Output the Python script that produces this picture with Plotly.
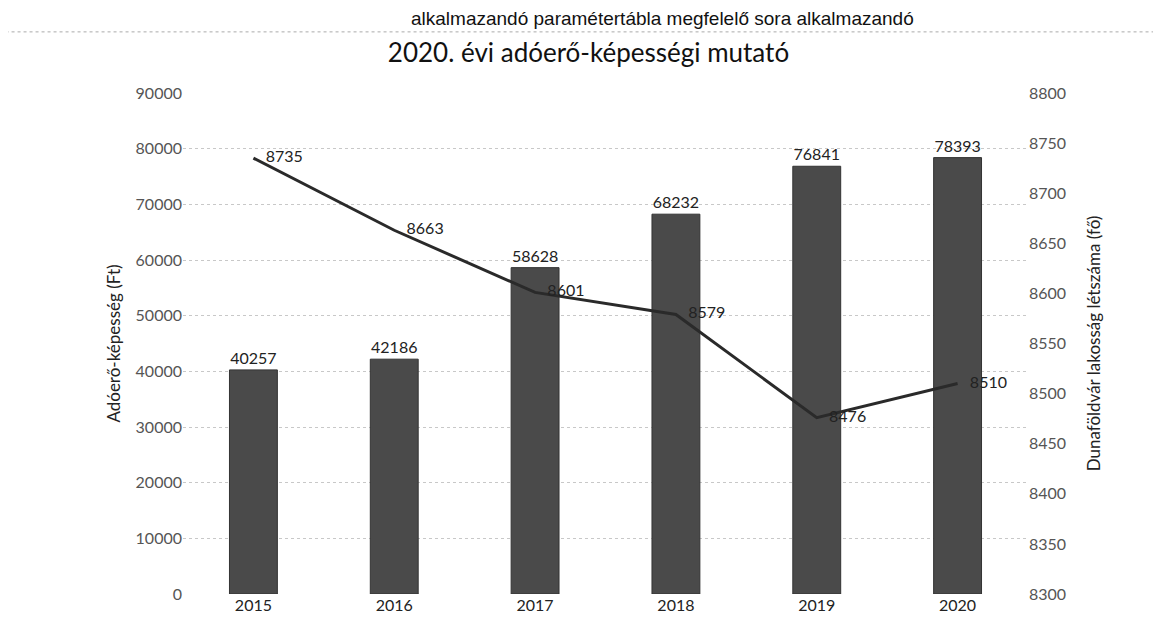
import plotly.graph_objects as go

years = ["2015", "2016", "2017", "2018", "2019", "2020"]
adoero = [40257, 42186, 58628, 68232, 76841, 78393]
lakossag = [8735, 8663, 8601, 8579, 8476, 8510]

left_ticks = [0, 10000, 20000, 30000, 40000, 50000, 60000, 70000, 80000, 90000]
right_ticks = [8300, 8350, 8400, 8450, 8500, 8550, 8600, 8650, 8700, 8750, 8800]

font_fam = "Lato, 'Open Sans', sans-serif"

fig = go.Figure()
fig.add_trace(go.Bar(
    x=years, y=adoero, name="Adóerő-képesség",
    marker=dict(color="#4a4a4a", line=dict(color="#333333", width=1)),
    width=0.34,
    text=[str(v) for v in adoero], textposition="outside",
    textfont=dict(size=16, color="#222222", family=font_fam),
    cliponaxis=False,
))
fig.add_trace(go.Scatter(
    x=years, y=lakossag, yaxis="y2", mode="lines+text",
    line=dict(color="#2a2a2a", width=3),
    text=["   " + str(v) for v in lakossag], textposition="middle right",
    textfont=dict(size=16, color="#222222", family=font_fam),
    cliponaxis=False,
))

fig.update_layout(
    width=1161, height=638,
    margin=dict(l=175, r=141, t=85, b=52),
    paper_bgcolor="white", plot_bgcolor="white",
    showlegend=False,
    title=dict(text="2020. évi adóerő-képességi mutató", x=0.5, xanchor="center",
               y=0.93, yanchor="middle",
               font=dict(size=26, color="#111111", family=font_fam)),
    font=dict(family=font_fam, color="#555555"),
    xaxis=dict(type="category", showgrid=False, showline=False, ticks="",
               tickfont=dict(size=16, color="#222222")),
    yaxis=dict(range=[0, 90000], tickvals=left_ticks, ticktext=[str(v) for v in left_ticks],
               showgrid=True, gridcolor="#c8c8c8", griddash="dot", gridwidth=1,
               zeroline=False, showline=False,
               tickfont=dict(size=16, color="#555555"),
               title=dict(text="Adóerő-képesség (Ft)", font=dict(size=17, color="#222222"), standoff=10)),
    yaxis2=dict(range=[8300, 8800], tickvals=right_ticks, ticktext=[str(v) for v in right_ticks],
                overlaying="y", side="right",
                showgrid=False, zeroline=False, showline=False,
                tickfont=dict(size=16, color="#555555"),
                title=dict(text="Dunaföldvár lakosság létszáma (fő)", font=dict(size=17, color="#222222"), standoff=22)),
    annotations=[dict(
        text="alkalmazandó paramétertábla megfelelő sora alkalmazandó",
        xref="paper", yref="paper", x=0.568, y=1.148, xanchor="center", yanchor="middle",
        showarrow=False, font=dict(size=19, color="#111111", family="'Liberation Sans', Arial, sans-serif"),
    )],
    shapes=[dict(type="line", xref="paper", yref="paper", x0=-0.21, x1=1.17, y0=1.122, y1=1.122,
                 line=dict(color="#aaaaaa", width=1, dash="dot"))],
)

fig.write_html("out.html")
